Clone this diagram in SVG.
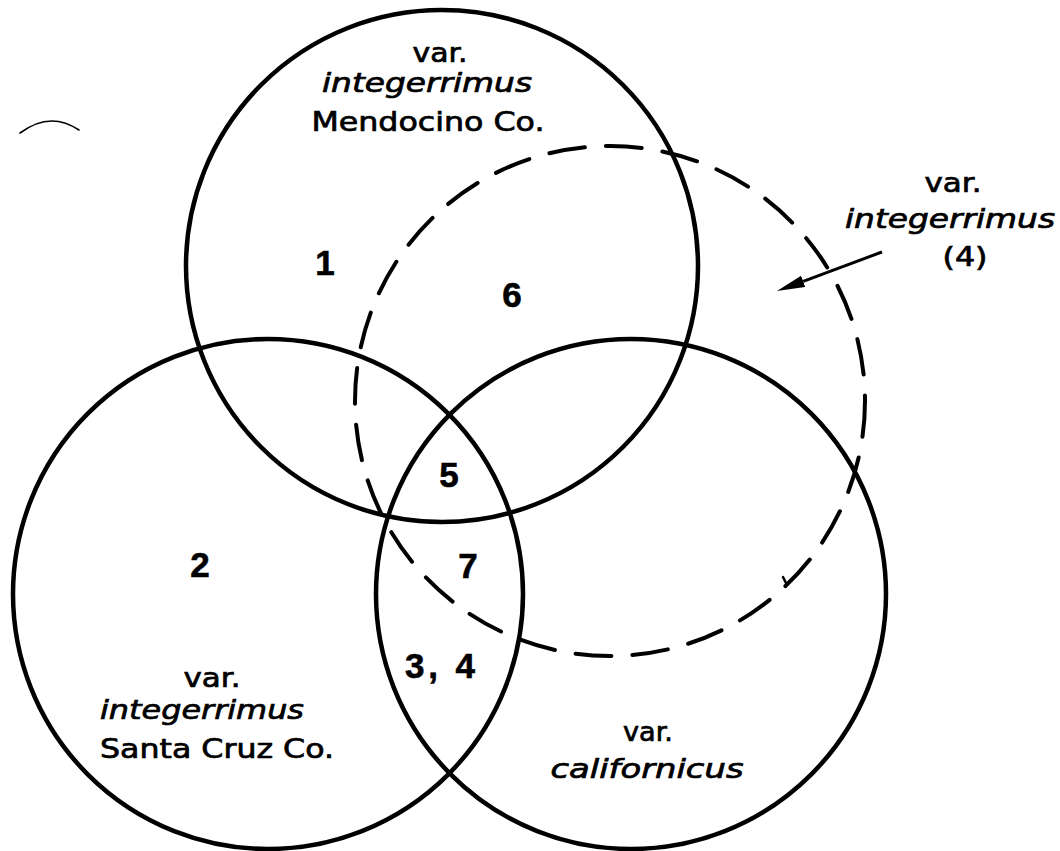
<svg xmlns="http://www.w3.org/2000/svg" width="1060" height="851" viewBox="0 0 1060 851">
<style>
  .ring{fill:none;stroke:#000;stroke-width:4.5}
  .dash{fill:none;stroke:#000;stroke-width:4;stroke-dasharray:36 21;stroke-linecap:round}
  .lbl{font-family:"DejaVu Sans","Liberation Sans",sans-serif;font-size:26px;fill:#000;stroke:#000;stroke-width:0.7;text-anchor:middle}
  .it{font-style:italic}
  .num{font-family:"Liberation Sans","DejaVu Sans",sans-serif;font-weight:bold;font-size:35px;fill:#000;stroke:#000;stroke-width:0.6;text-anchor:middle}
  .thin{fill:none;stroke:#000;stroke-width:1.6;stroke-linecap:round}
</style>
<defs>
  <marker id="head" markerUnits="userSpaceOnUse" markerWidth="30" markerHeight="14" refX="0" refY="6" orient="auto">
    <path d="M0,0 L28,6 L0,12 Z" fill="#000"/>
  </marker>
</defs>
<rect width="1060" height="851" fill="#fff"/>

<g id="node-mendocino">
  <circle class="ring" cx="442" cy="266" r="256"/>
  <text class="lbl" x="440" y="62" textLength="55" lengthAdjust="spacingAndGlyphs">var.</text>
  <text class="lbl it" x="427" y="92" textLength="210" lengthAdjust="spacingAndGlyphs">integerrimus</text>
  <text class="lbl" x="428" y="131" textLength="233" lengthAdjust="spacingAndGlyphs">Mendocino Co.</text>
</g>

<g id="node-santacruz">
  <circle class="ring" cx="268" cy="594" r="255"/>
  <text class="lbl" x="212" y="687" textLength="57" lengthAdjust="spacingAndGlyphs">var.</text>
  <text class="lbl it" x="202" y="719" textLength="204" lengthAdjust="spacingAndGlyphs">integerrimus</text>
  <text class="lbl" x="217" y="758" textLength="234" lengthAdjust="spacingAndGlyphs">Santa Cruz Co.</text>
</g>

<g id="node-californicus">
  <circle class="ring" cx="631" cy="594" r="255"/>
  <text class="lbl" x="648" y="741" textLength="50" lengthAdjust="spacingAndGlyphs">var.</text>
  <text class="lbl it" x="647" y="778" textLength="193" lengthAdjust="spacingAndGlyphs">californicus</text>
</g>

<g id="node-integerrimus-4">
  <circle class="dash" cx="610" cy="401" r="255"/>
  <line class="thin" x1="783" y1="577" x2="787" y2="585" style="stroke-width:2.5"/>
  <text class="lbl" x="953" y="192" textLength="57" lengthAdjust="spacingAndGlyphs">var.</text>
  <text class="lbl it" x="950" y="228" textLength="210" lengthAdjust="spacingAndGlyphs">integerrimus</text>
  <text class="lbl" x="965" y="266" textLength="45" lengthAdjust="spacingAndGlyphs">(4)</text>
</g>

<g id="region-numbers">
  <text class="num" x="325" y="275">1</text>
  <text class="num" x="512" y="307">6</text>
  <text class="num" x="449" y="487">5</text>
  <text class="num" x="200" y="577">2</text>
  <text class="num" x="468" y="578">7</text>
  <text class="num" x="440" y="678" textLength="70" lengthAdjust="spacing">3, 4</text>
</g>

<g id="connectors">
  <line x1="882" y1="252" x2="803.2" y2="281.3" stroke="#000" stroke-width="3" marker-end="url(#head)"/>
</g>

<g id="marks">
  <path class="thin" d="M20,133 Q50,110.5 79,130"/>
</g>
</svg>
